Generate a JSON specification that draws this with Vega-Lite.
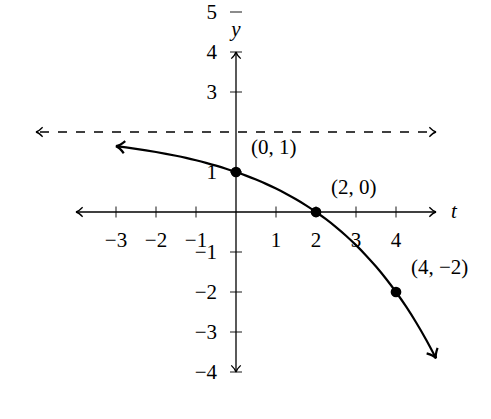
{
  "$schema": "https://vega.github.io/schema/vega-lite/v6.json",
  "autosize": {"type": "fit", "contains": "padding"},
  "width": 491,
  "height": 419,
  "padding": 0,
  "background": "white",
  "datasets": {
    "axes": [
      {"t": -4, "t2": 5, "y": 0, "y2": 0},
      {"t": 0, "t2": 0, "y": -4, "y2": 4}
    ],
    "asymptote": [
      {"t": -5, "t2": 5, "y": 2, "y2": 2}
    ],
    "xticks": [
      {"t": -3, "y": 0, "label": "−3"},
      {"t": -2, "y": 0, "label": "−2"},
      {"t": -1, "y": 0, "label": "−1"},
      {"t": 1, "y": 0, "label": "1"},
      {"t": 2, "y": 0, "label": "2"},
      {"t": 3, "y": 0, "label": "3"},
      {"t": 4, "y": 0, "label": "4"}
    ],
    "yticks": [
      {"t": 0, "y": 5, "label": "5"},
      {"t": 0, "y": 4, "label": "4"},
      {"t": 0, "y": 3, "label": "3"},
      {"t": 0, "y": 1, "label": "1"},
      {"t": 0, "y": -1, "label": "−1"},
      {"t": 0, "y": -2, "label": "−2"},
      {"t": 0, "y": -3, "label": "−3"},
      {"t": 0, "y": -4, "label": "−4"}
    ],
    "curve": [
      {"t": -3, "y": 1.6464},
      {"t": -2.75, "y": 1.6145},
      {"t": -2.5, "y": 1.5796},
      {"t": -2.25, "y": 1.5415},
      {"t": -2, "y": 1.5},
      {"t": -1.75, "y": 1.4548},
      {"t": -1.5, "y": 1.4054},
      {"t": -1.25, "y": 1.3516},
      {"t": -1, "y": 1.2929},
      {"t": -0.75, "y": 1.2289},
      {"t": -0.5, "y": 1.1591},
      {"t": -0.25, "y": 1.083},
      {"t": 0, "y": 1},
      {"t": 0.25, "y": 0.9095},
      {"t": 0.5, "y": 0.8108},
      {"t": 0.75, "y": 0.7032},
      {"t": 1, "y": 0.5858},
      {"t": 1.25, "y": 0.4578},
      {"t": 1.5, "y": 0.3182},
      {"t": 1.75, "y": 0.166},
      {"t": 2, "y": 0},
      {"t": 2.25, "y": -0.181},
      {"t": 2.5, "y": -0.3784},
      {"t": 2.75, "y": -0.5937},
      {"t": 3, "y": -0.8284},
      {"t": 3.25, "y": -1.0844},
      {"t": 3.5, "y": -1.3636},
      {"t": 3.75, "y": -1.668},
      {"t": 4, "y": -2},
      {"t": 4.25, "y": -2.362},
      {"t": 4.5, "y": -2.7568},
      {"t": 4.75, "y": -3.1874},
      {"t": 5, "y": -3.6569}
    ],
    "arrows": [
      {"t": 5, "y": 0, "dir": "right"},
      {"t": -4, "y": 0, "dir": "left"},
      {"t": 0, "y": 4, "dir": "up"},
      {"t": 0, "y": -4, "dir": "down"},
      {"t": 5, "y": 2, "dir": "right"},
      {"t": -5, "y": 2, "dir": "left"}
    ],
    "curveEnds": [
      {"t": -3, "y": 1.6464, "dir": "start"},
      {"t": 5, "y": -3.6569, "dir": "end"}
    ],
    "points": [
      {"t": 0, "y": 1, "label": "(0, 1)"},
      {"t": 2, "y": 0, "label": "(2, 0)"},
      {"t": 4, "y": -2, "label": "(4, −2)"}
    ],
    "names": [
      {"t": 5, "y": 0, "label": "t", "axis": "x"},
      {"t": 0, "y": 4, "label": "y", "axis": "y"}
    ]
  },
  "encoding": {
    "x": {
      "field": "t",
      "type": "quantitative",
      "scale": {"domain": [-5.9, 6.375], "nice": false, "zero": false},
      "axis": null
    },
    "y": {
      "field": "y",
      "type": "quantitative",
      "scale": {"domain": [-5.175, 5.3], "nice": false, "zero": false},
      "axis": null
    }
  },
  "layer": [
    {
      "data": {"name": "axes"},
      "mark": {"type": "rule", "color": "black", "strokeWidth": 1.3},
      "encoding": {"x2": {"field": "t2"}, "y2": {"field": "y2"}}
    },
    {
      "data": {"name": "asymptote"},
      "mark": {"type": "rule", "color": "black", "strokeWidth": 1.3, "strokeDash": [9, 9], "strokeDashOffset": 14},
      "encoding": {"x2": {"field": "t2"}, "y2": {"field": "y2"}}
    },
    {
      "data": {"name": "xticks"},
      "mark": {"type": "tick", "orient": "vertical", "color": "black", "size": 11, "thickness": 1.3}
    },
    {
      "data": {"name": "xticks"},
      "mark": {"type": "text", "font": "Liberation Serif", "fontSize": 21, "color": "black", "align": "center", "baseline": "middle", "dy": 29},
      "encoding": {"text": {"field": "label"}}
    },
    {
      "data": {"name": "yticks"},
      "mark": {"type": "tick", "orient": "horizontal", "color": "black", "size": 12, "thickness": 1.3}
    },
    {
      "data": {"name": "yticks"},
      "mark": {"type": "text", "font": "Liberation Serif", "fontSize": 21, "color": "black", "align": "right", "baseline": "middle", "dx": -19, "dy": 1},
      "encoding": {"text": {"field": "label"}}
    },
    {
      "data": {"name": "curve"},
      "mark": {"type": "line", "color": "black", "strokeWidth": 2.2, "interpolate": "monotone"}
    },
    {
      "data": {"name": "arrows"},
      "transform": [{"filter": "datum.dir === 'right'"}],
      "mark": {"type": "point", "shape": "M -1.4 -1 Q -0.6 -0.15 0 0 Q -0.6 0.15 -1.4 1", "filled": false, "color": "black", "strokeWidth": 1.3, "size": 90, "opacity": 1, "angle": 0}
    },
    {
      "data": {"name": "arrows"},
      "transform": [{"filter": "datum.dir === 'left'"}],
      "mark": {"type": "point", "shape": "M -1.4 -1 Q -0.6 -0.15 0 0 Q -0.6 0.15 -1.4 1", "filled": false, "color": "black", "strokeWidth": 1.3, "size": 90, "opacity": 1, "angle": 180}
    },
    {
      "data": {"name": "arrows"},
      "transform": [{"filter": "datum.dir === 'up'"}],
      "mark": {"type": "point", "shape": "M -1.4 -1 Q -0.6 -0.15 0 0 Q -0.6 0.15 -1.4 1", "filled": false, "color": "black", "strokeWidth": 1.3, "size": 90, "opacity": 1, "angle": 270}
    },
    {
      "data": {"name": "arrows"},
      "transform": [{"filter": "datum.dir === 'down'"}],
      "mark": {"type": "point", "shape": "M -1.4 -1 Q -0.6 -0.15 0 0 Q -0.6 0.15 -1.4 1", "filled": false, "color": "black", "strokeWidth": 1.3, "size": 90, "opacity": 1, "angle": 90}
    },
    {
      "data": {"name": "curveEnds"},
      "transform": [{"filter": "datum.dir === 'start'"}],
      "mark": {"type": "point", "shape": "M -1.4 -1 Q -0.6 -0.15 0 0 Q -0.6 0.15 -1.4 1", "filled": false, "color": "black", "strokeWidth": 2.2, "size": 150, "opacity": 1, "angle": 187}
    },
    {
      "data": {"name": "curveEnds"},
      "transform": [{"filter": "datum.dir === 'end'"}],
      "mark": {"type": "point", "shape": "M -1.4 -1 Q -0.6 -0.15 0 0 Q -0.6 0.15 -1.4 1", "filled": false, "color": "black", "strokeWidth": 2.2, "size": 150, "opacity": 1, "angle": 63}
    },
    {
      "data": {"name": "points"},
      "mark": {"type": "circle", "color": "black", "size": 115, "opacity": 1}
    },
    {
      "data": {"name": "points"},
      "mark": {"type": "text", "font": "Liberation Serif", "fontSize": 21, "color": "black", "align": "left", "baseline": "middle", "dx": 15, "dy": -24},
      "encoding": {"text": {"field": "label"}}
    },
    {
      "data": {"name": "names"},
      "transform": [{"filter": "datum.axis === 'x'"}],
      "mark": {"type": "text", "font": "Liberation Serif", "fontStyle": "italic", "fontSize": 21, "color": "black", "align": "center", "baseline": "middle", "dx": 18},
      "encoding": {"text": {"field": "label"}}
    },
    {
      "data": {"name": "names"},
      "transform": [{"filter": "datum.axis === 'y'"}],
      "mark": {"type": "text", "font": "Liberation Serif", "fontStyle": "italic", "fontSize": 21, "color": "black", "align": "center", "baseline": "middle", "dy": -22},
      "encoding": {"text": {"field": "label"}}
    }
  ],
  "config": {"view": {"stroke": null}}
}
